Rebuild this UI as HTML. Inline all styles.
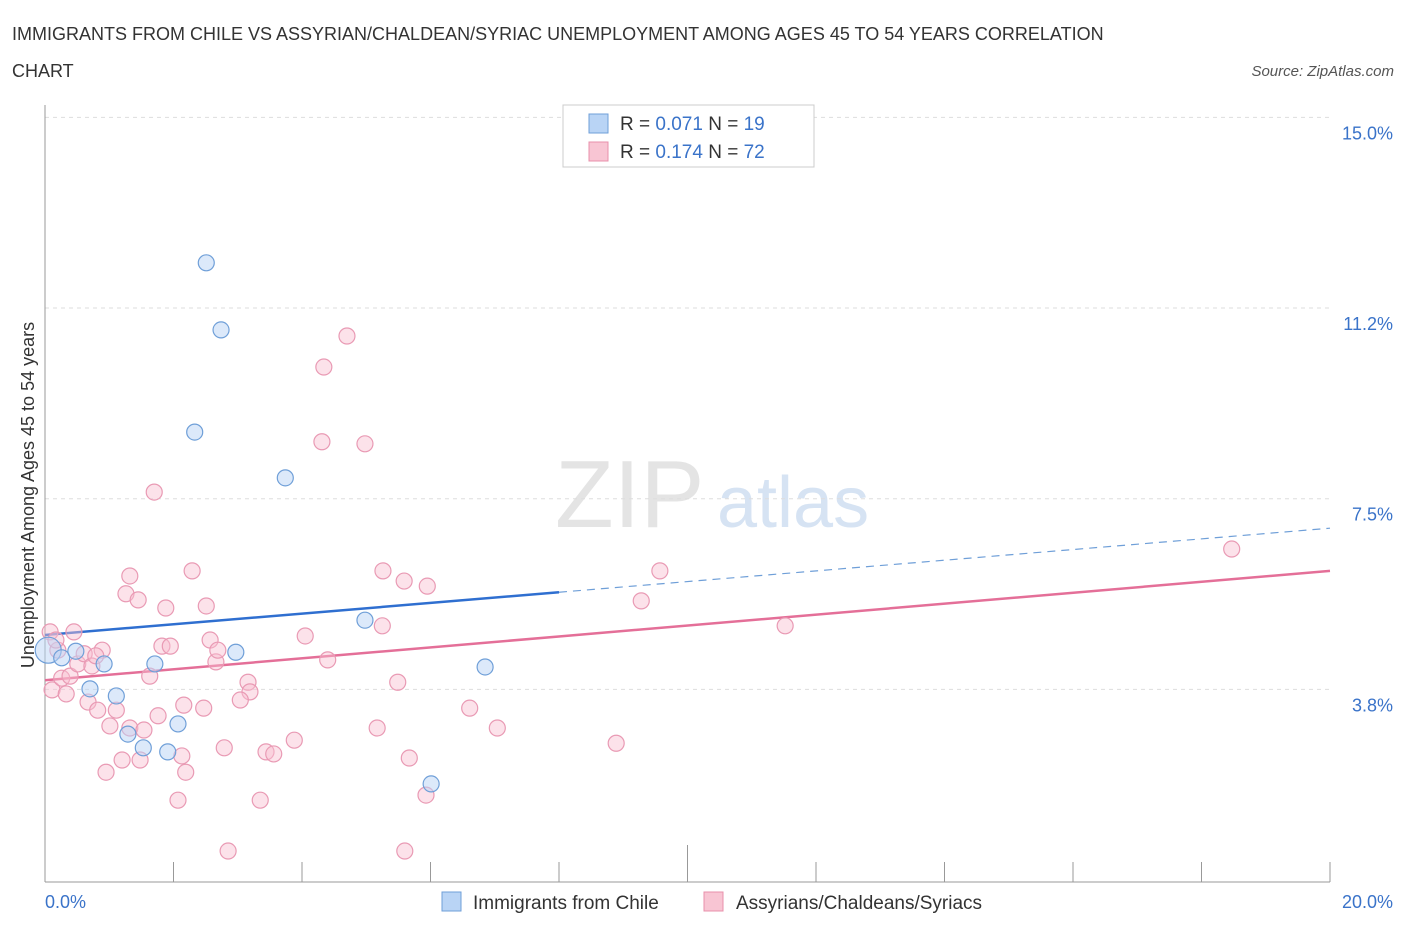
<!DOCTYPE html>
<html><head><meta charset="utf-8"><style>
body{margin:0;background:#fff;font-family:"Liberation Sans",sans-serif;}
svg text{font-family:"Liberation Sans",sans-serif;}
</style></head><body>
<svg id="chart" width="1406" height="930" xmlns="http://www.w3.org/2000/svg">
<text x="12" y="40" font-size="18" fill="#333">IMMIGRANTS FROM CHILE VS ASSYRIAN/CHALDEAN/SYRIAC UNEMPLOYMENT AMONG AGES 45 TO 54 YEARS CORRELATION</text>
<text x="12" y="77" font-size="18" fill="#333">CHART</text>
<text x="1394" y="76" font-size="15" fill="#555" text-anchor="end" font-style="italic">Source: ZipAtlas.com</text>
<text x="555" y="527" font-size="96" fill="#e4e4e4" font-family="Liberation Serif">ZIP</text>
<text x="717" y="527" font-size="72" fill="#d6e3f3">atlas</text>
<g id="grid"></g>
<g id="axes"></g>
<g id="trends"></g>
<g id="points"></g>
<text transform="translate(34,495) rotate(-90)" font-size="18" fill="#333" text-anchor="middle">Unemployment Among Ages 45 to 54 years</text>
<g>
<rect x="563" y="105" width="251" height="62" fill="#fff" stroke="#ccc"/>
<rect x="589" y="114" width="19" height="19" fill="#b9d4f5" stroke="#6f9fd8"/>
<text x="620" y="130" font-size="19" fill="#333">R = <tspan fill="#3a73c9">0.071</tspan>   N = <tspan fill="#3a73c9">19</tspan></text>
<rect x="589" y="142" width="19" height="19" fill="#f8c5d3" stroke="#e890ab"/>
<text x="620" y="158" font-size="19" fill="#333">R = <tspan fill="#3a73c9"> 0.174</tspan>   N = <tspan fill="#3a73c9">72</tspan></text>
</g>
<g>
<rect x="442" y="892" width="19" height="19" fill="#b9d4f5" stroke="#6f9fd8"/>
<text x="473" y="909" font-size="19" fill="#333">Immigrants from Chile</text>
<rect x="704" y="892" width="19" height="19" fill="#f8c5d3" stroke="#e890ab"/>
<text x="736" y="909" font-size="19" fill="#333">Assyrians/Chaldeans/Syriacs</text>
</g>
</svg>
<script>
const yTicks=[3.75,7.5,11.25,15];
const yTickLabels=["3.8%","7.5%","11.2%","15.0%"];
const xTickLabels=["0.0%","20.0%"];
const blueX=[0.05,0.26,0.48,0.92,0.70,1.11,1.29,1.53,1.71,1.91,2.07,2.33,2.51,2.74,2.97,3.74,4.98,6.01,6.85];
const blueY=[4.52,4.37,4.50,4.25,3.76,3.62,2.87,2.60,4.25,2.52,3.07,8.81,12.14,10.82,4.48,7.91,5.11,1.89,4.19];
const pinkX=[0.08,0.11,0.20,0.26,0.33,0.39,0.45,0.51,0.61,0.67,0.73,0.82,0.89,0.95,1.01,1.11,1.20,1.26,1.32,1.32,1.45,1.48,1.54,1.63,1.70,1.76,1.82,1.88,1.95,2.07,2.13,2.19,2.29,2.47,2.51,2.57,2.66,2.69,2.79,2.85,3.16,3.19,3.35,3.44,3.56,3.88,4.05,4.31,4.34,4.40,4.70,4.98,5.17,5.25,5.26,5.49,5.59,5.67,5.60,5.93,5.95,6.61,7.04,8.89,9.28,9.57,11.52,18.47,0.17,0.79,2.16,3.04];
const pinkY=[4.88,3.74,4.52,3.97,3.66,4.01,4.88,4.25,4.45,3.50,4.21,3.34,4.52,2.12,3.03,3.34,2.36,5.63,5.98,2.99,5.51,2.36,2.95,4.01,7.63,3.23,4.60,5.35,4.60,1.57,2.44,2.12,6.08,3.38,5.39,4.72,4.29,4.52,2.60,0.57,3.89,3.70,1.57,2.52,2.48,2.75,4.80,8.62,10.09,4.33,10.70,8.58,2.99,5.00,6.08,3.89,5.88,2.40,0.57,1.67,5.78,3.38,2.99,2.69,5.49,6.08,5.00,6.51,4.72,4.41,3.44,3.54];
const blueTrend=[4.82,6.92];
const pinkTrend=[3.93,6.08];
const NS="http://www.w3.org/2000/svg";
const X=v=>45+v*64.25, Y=v=>880-v*50.84;
function mk(tag,attrs,parent){const e=document.createElementNS(NS,tag);for(const k in attrs)e.setAttribute(k,attrs[k]);document.getElementById(parent).appendChild(e);return e;}
yTicks.forEach((t,i)=>{
 const g=mk('line',{x1:45,x2:1330,y1:Y(t),y2:Y(t),stroke:'#dddddd','stroke-dasharray':'4,4'},'grid');
 
 
 const l=mk('text',{x:1393,y:Y(t)+22,'font-size':18,fill:'#3a73c9','text-anchor':'end'},'grid');
 l.textContent=yTickLabels[i];
 
 
});
const ax=mk('line',{x1:45,x2:45,y1:105,y2:882,stroke:'#999'},'axes');


const bx=mk('line',{x1:45,x2:1330,y1:882,y2:882,stroke:'#999'},'axes');


for(let i=0;i<=10;i++){
 const t=mk('line',{x1:X(i*2),x2:X(i*2),y1:(i==5?845:862),y2:882,stroke:'#999'},'axes');
 
 
}
xTickLabels.forEach((s,i)=>{
 const t=mk('text',{x:i?1393:45,y:908,'font-size':18,fill:'#3a73c9','text-anchor':i?'end':'start'},'axes');
 t.textContent=s;
 
 
});
const bm=blueTrend[0]+(blueTrend[1]-blueTrend[0])*8/20;
const b1=mk('line',{x1:X(0),y1:Y(blueTrend[0]),x2:X(8),y2:Y(bm),stroke:'#2f6fd0','stroke-width':2.5},'trends');


const b2=mk('line',{x1:X(8),y1:Y(bm),x2:X(20),y2:Y(blueTrend[1]),stroke:'#6f9fd8','stroke-width':1.2,'stroke-dasharray':'8,6'},'trends');


const p1=mk('line',{x1:X(0),y1:Y(pinkTrend[0]),x2:X(20),y2:Y(pinkTrend[1]),stroke:'#e46f98','stroke-width':2.5},'trends');


pinkX.forEach((x,i)=>{
 const c=mk('circle',{cx:X(x),cy:Y(pinkY[i]),r:8,fill:'rgba(248,190,208,0.45)',stroke:'#e99ab4','stroke-width':1.2},'points');
 
 
});
blueX.forEach((x,i)=>{
 const c=mk('circle',{cx:X(x),cy:Y(blueY[i]),r:i==0?13:8,fill:'rgba(185,212,245,0.5)',stroke:'#6f9fd8','stroke-width':1.2},'points');
 
 
});
</script>
</body></html>
